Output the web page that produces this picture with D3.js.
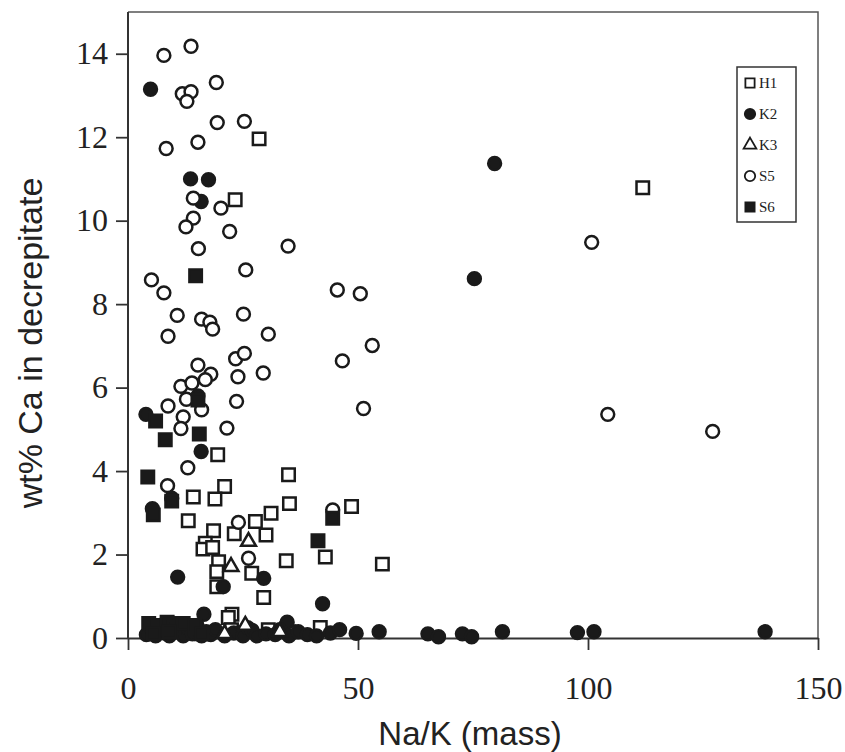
<!DOCTYPE html>
<html><head><meta charset="utf-8">
<script src="https://cdn.jsdelivr.net/npm/d3@7"></script>
<style>body{margin:0;background:#fff}</style></head>
<body>
<svg id="c" width="845" height="752"></svg>
<script>
// ---- data (Na/K mass ratio, wt% Ca) ----
const seriesNames = ["H1", "K2", "K3", "S5", "S6"];

const h1 = [[28.5,11.96],[23.3,10.5],[111.9,10.79],[19.5,4.39],[34.9,3.91],[35.1,3.22],[48.6,3.15],
  [21.0,3.63],[14.2,3.38],[18.9,3.33],[13.1,2.81],[31.1,2.99],[27.7,2.79],[18.6,2.57],[23.1,2.50],
  [30.0,2.47],[16.8,2.27],[16.3,2.13],[18.4,2.17],[19.7,1.83],[34.4,1.85],[42.9,1.94],[55.3,1.77],
  [19.3,1.59],[26.9,1.55],[19.3,1.23],[29.5,0.97],[22.6,0.57],[21.8,0.49],[41.8,0.25],[30.5,0.2],
  [22.5,0.2],[35.0,0.15]];

const k2 = [[4.9,13.15],[79.7,11.37],[75.3,8.61],[13.6,11.0],[17.5,10.98],[15.9,10.46],[15.2,5.8],
  [3.9,5.36],[15.9,4.47],[5.3,3.1],[9.5,3.35],[10.8,1.46],[29.5,1.43],[20.7,1.23],[42.3,0.82],
  [16.5,0.57],[34.6,0.38],
  [49.6,0.11],[54.6,0.15],[65.2,0.1],[67.5,0.03],[72.7,0.1],[74.7,0.03],[81.4,0.15],[97.7,0.13],
  [101.3,0.15],[138.5,0.15],
  [4,0.08],[5,0.25],[6,0.05],[7,0.3],[8,0.12],[9,0.05],[10,0.35],[11,0.15],[12,0.05],[13,0.25],
  [14,0.1],[15,0.3],[16,0.05],[17,0.15],[18,0.08],[19,0.2],[21,0.05],[23,0.12],[25,0.05],[26,0.25],
  [27,0.18],[28,0.05],[30,0.1],[32,0.08],[33,0.2],[35,0.05],[37,0.15],[39,0.08],[41,0.05],[44,0.12],
  [46,0.2]];

const k3 = [[22.4,1.71],[26.2,2.31],[21.0,0.1],[25.5,0.3],[33.0,0.15]];

const s5 = [[7.8,13.96],[13.7,14.18],[11.8,13.04],[13.7,13.09],[12.8,12.86],[19.2,13.31],[19.4,12.35],
  [25.3,12.38],[8.3,11.73],[15.2,11.88],[14.2,10.54],[20.2,10.3],[14.2,10.06],[12.6,9.85],[22.1,9.74],
  [34.8,9.39],[15.3,9.33],[25.6,8.82],[5.1,8.58],[7.8,8.27],[45.5,8.34],[50.5,8.25],[10.7,7.73],
  [16.0,7.64],[17.8,7.57],[18.4,7.40],[25.1,7.76],[8.7,7.23],[30.5,7.28],[53.1,7.01],[23.4,6.69],
  [25.3,6.82],[46.6,6.64],[15.2,6.54],[18.0,6.32],[16.8,6.19],[23.9,6.26],[29.4,6.35],[11.5,6.03],
  [13.9,6.11],[12.7,5.72],[23.6,5.67],[8.7,5.56],[12.0,5.30],[16.0,5.47],[51.2,5.50],[11.5,5.02],
  [21.5,5.03],[13.0,4.08],[8.6,3.65],[24.0,2.77],[26.2,1.91],[44.5,3.07],[100.8,9.48],[104.3,5.36],
  [127.1,4.95]];

const s6 = [[14.7,8.68],[15.2,5.7],[6.0,5.2],[15.5,4.89],[8.1,4.75],[4.3,3.86],[9.5,3.28],[5.5,2.95],
  [41.3,2.33],[44.5,2.87],[4.5,0.35],[6.5,0.3],[8.5,0.38],[10,0.25],[12,0.35],[14.5,0.3],[16,0.1],
  [5.5,0.1],[9,0.15]];

const xTicks = [0, 50, 100, 150];
const yTicks = [0, 2, 4, 6, 8, 10, 12, 14];
const xTitle = "Na/K (mass)";
const yTitle = "wt% Ca in decrepitate";

// ---- drawing ----
const ink = "#1a1a1a";
const svg = d3.select("#c");
const x = d3.scaleLinear().domain([0, 150]).range([128, 818]);
const y = d3.scaleLinear().domain([0, 15]).range([638, 12]);

// frame (top & right)
svg.append("path")
  .attr("d", `M${x(0)},${y(15)}H${x(150)}V${y(0)}`)
  .attr("fill", "none").attr("stroke", "#555").attr("stroke-width", 1.5);

const xAxis = svg.append("g").attr("transform", `translate(0,${y(0)})`)
  .call(d3.axisBottom(x).tickValues(xTicks).tickSize(12).tickSizeOuter(0).tickPadding(26));
const yAxis = svg.append("g").attr("transform", `translate(${x(0)},0)`)
  .call(d3.axisLeft(y).tickValues(yTicks).tickSize(12).tickSizeOuter(0).tickPadding(8));
yAxis.select(".domain").attr("d", `M0,${y(0)}V${y(15)}`);
[xAxis, yAxis].forEach(g => {
  g.select(".domain").attr("stroke", "#333").attr("stroke-width", 2);
  g.selectAll(".tick line").attr("stroke", "#333").attr("stroke-width", 1.8);
  g.selectAll(".tick text").attr("fill", "#222")
    .style("font-family", "'Liberation Serif', 'Times New Roman', serif").style("font-size", "32px");
});

svg.append("text").attr("x", 470).attr("y", 745).attr("text-anchor", "middle")
  .style("font-family", "'Liberation Sans', Arial, sans-serif").style("font-size", "33px")
  .attr("fill", "#222").text(xTitle);
svg.append("text").attr("transform", "translate(30,343) rotate(-90)").attr("dy", "0.35em")
  .attr("text-anchor", "middle")
  .style("font-family", "'Liberation Sans', Arial, sans-serif").style("font-size", "34px")
  .attr("fill", "#222").text(yTitle);

const styles = {
  H1: {shape: d3.symbolSquare, fill: "#fff"},
  K2: {shape: d3.symbolCircle, fill: ink},
  K3: {shape: d3.symbolTriangle, fill: "#fff"},
  S5: {shape: d3.symbolCircle, fill: "#fff"},
  S6: {shape: d3.symbolSquare, fill: ink}
};
const sizes = {H1: 155, K2: 130, K3: 95, S5: 130, S6: 155};
const dataBy = {H1: h1, K2: k2, K3: k3, S5: s5, S6: s6};

const plot = svg.append("g");
seriesNames.forEach(name => {
  const st = styles[name];
  plot.append("g").selectAll("path").data(dataBy[name]).join("path")
    .attr("transform", d => `translate(${x(d[0])},${y(d[1])})`)
    .attr("d", d3.symbol(st.shape, sizes[name])())
    .attr("fill", st.fill).attr("stroke", ink).attr("stroke-width", 2.5);
});

// legend
const lg = svg.append("g");
lg.append("rect").attr("x", 737).attr("y", 67).attr("width", 59).attr("height", 155)
  .attr("fill", "#fff").attr("stroke", "#333").attr("stroke-width", 1.5);
seriesNames.forEach((name, i) => {
  const cy = 83 + i * 31;
  const st = styles[name];
  lg.append("path").attr("transform", `translate(750,${cy})`)
    .attr("d", d3.symbol(st.shape, name === "K3" ? 70 : 85)())
    .attr("fill", st.fill).attr("stroke", ink).attr("stroke-width", 1.8);
  lg.append("text").attr("x", 759).attr("y", cy).attr("dy", "0.35em")
    .style("font-family", "'Liberation Serif', 'Times New Roman', serif").style("font-size", "15px")
    .attr("fill", "#222").text(name);
});
</script>
</body></html>
